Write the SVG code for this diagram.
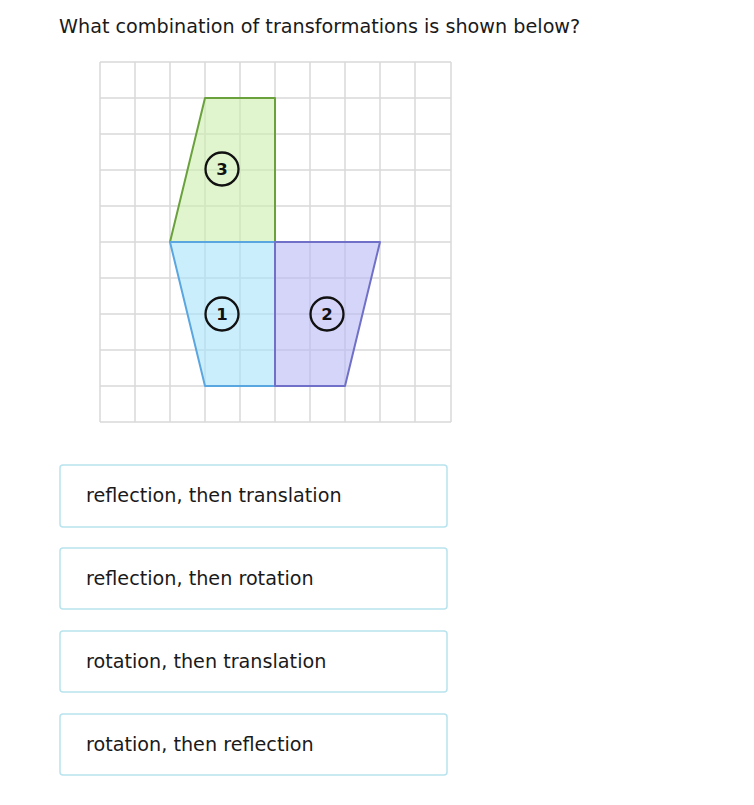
<svg xmlns="http://www.w3.org/2000/svg" width="754" height="805" viewBox="0 0 754 805">
<style>
.t{font-family:"DejaVu Sans","Liberation Sans",sans-serif;fill:#1a1a1a}
.grid line{stroke:#d9d9d9;stroke-width:1.5}
.lbl circle{fill:none;stroke:#111;stroke-width:2.3}
.lbl text{font-family:"DejaVu Sans","Liberation Sans",sans-serif;font-weight:bold;font-size:16.5px;fill:#111;text-anchor:middle}
.box{fill:#fff;stroke:#b9e3ee;stroke-width:1.5}
.opt{font-size:19.2px}
</style>
<rect width="754" height="805" fill="#fff"/>
<text class="t" x="59" y="33" font-size="19.2">What combination of transformations is shown below?</text>
<g id="grid" class="grid">
<line x1="100" y1="62" x2="100" y2="422"/><line x1="135" y1="62" x2="135" y2="422"/><line x1="170" y1="62" x2="170" y2="422"/><line x1="205" y1="62" x2="205" y2="422"/><line x1="240" y1="62" x2="240" y2="422"/><line x1="275" y1="62" x2="275" y2="422"/><line x1="310" y1="62" x2="310" y2="422"/><line x1="345" y1="62" x2="345" y2="422"/><line x1="380" y1="62" x2="380" y2="422"/><line x1="415" y1="62" x2="415" y2="422"/><line x1="451" y1="62" x2="451" y2="422"/>
<line x1="100" y1="62" x2="451" y2="62"/><line x1="100" y1="98" x2="451" y2="98"/><line x1="100" y1="134" x2="451" y2="134"/><line x1="100" y1="170" x2="451" y2="170"/><line x1="100" y1="206" x2="451" y2="206"/><line x1="100" y1="242" x2="451" y2="242"/><line x1="100" y1="278" x2="451" y2="278"/><line x1="100" y1="314" x2="451" y2="314"/><line x1="100" y1="350" x2="451" y2="350"/><line x1="100" y1="386" x2="451" y2="386"/><line x1="100" y1="422" x2="451" y2="422"/>
</g>
<g id="shape3">
<polygon points="205,98 275,98 275,242 170,242" fill="#cbefab" fill-opacity="0.6" stroke="#6aa13c" stroke-width="2" stroke-linejoin="round"/>
</g>
<g id="shape1">
<polygon points="170,242 275,242 275,386 205,386" fill="#a8e3fb" fill-opacity="0.6" stroke="#5aa6e0" stroke-width="2" stroke-linejoin="round"/>
</g>
<g id="shape2">
<polygon points="275,242 380,242 345,386 275,386" fill="#b9b9f5" fill-opacity="0.6" stroke="#7070c8" stroke-width="2" stroke-linejoin="round"/>
</g>
<g id="label3" class="lbl"><circle cx="222" cy="169" r="16.5"/><text x="222" y="175">3</text></g>
<g id="label1" class="lbl"><circle cx="222" cy="314" r="16.5"/><text x="222" y="320">1</text></g>
<g id="label2" class="lbl"><circle cx="327" cy="314" r="16.5"/><text x="327" y="320">2</text></g>
<g id="opt1"><rect class="box" x="60" y="465" width="387" height="62" rx="3"/><text class="t opt" x="86" y="502">reflection, then translation</text></g>
<g id="opt2"><rect class="box" x="60" y="548" width="387" height="61" rx="3"/><text class="t opt" x="86" y="585">reflection, then rotation</text></g>
<g id="opt3"><rect class="box" x="60" y="631" width="387" height="61" rx="3"/><text class="t opt" x="86" y="668">rotation, then translation</text></g>
<g id="opt4"><rect class="box" x="60" y="714" width="387" height="61" rx="3"/><text class="t opt" x="86" y="751">rotation, then reflection</text></g>
</svg>
